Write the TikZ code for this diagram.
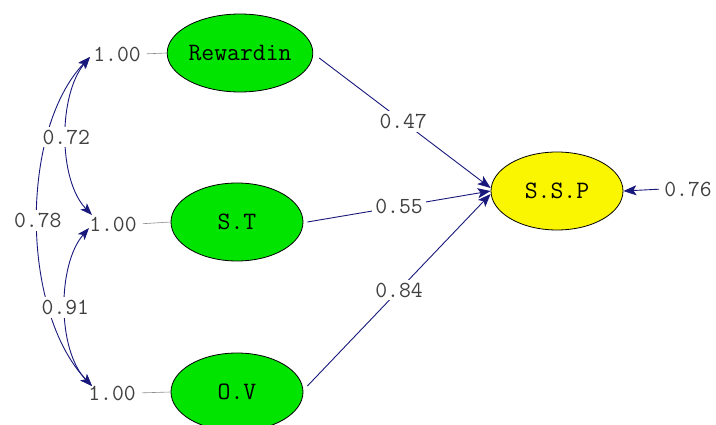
\documentclass[tikz,border=0pt]{standalone}
\usepackage{fontspec}
\usetikzlibrary{shapes.geometric,arrows.meta}
\definecolor{lvgreen}{RGB}{0,228,0}
\definecolor{lvyellow}{RGB}{250,245,0}
\definecolor{lvblue}{RGB}{25,25,125}
\begin{document}
\begin{tikzpicture}[x=1pt,y=-1pt,
  latent/.style={ellipse,draw=black,line width=0.8pt,fill=lvgreen,minimum width=132pt,minimum height=78pt,inner sep=0pt,font=\ttfamily\fontsize{25}{28}\selectfont},
  num/.style={font=\ttfamily\fontsize{23}{26}\selectfont,text=black!75,inner sep=1pt},
  lbl/.style={num,fill=white,inner sep=3pt},
  pathar/.style={draw=lvblue,line width=0.9pt,-{Stealth[length=13pt,width=10pt,inset=3pt]}},
  covar/.style={draw=lvblue,line width=0.9pt,{Stealth[length=12pt,width=9pt,inset=3pt]}-{Stealth[length=12pt,width=9pt,inset=3pt]}},
  tie/.style={draw=black!45,line width=0.6pt}]
\useasboundingbox[fill=white] (0,0) rectangle (716,425);
% latent variables
\node[latent] (rew) at (240,53) {Rewardin};
\node[latent] (st) at (237,222) {S.T};
\node[latent] (ov) at (237,392) {O.V};
\node[latent,fill=lvyellow] (ssp) at (557,191) {S.S.P};
% variance labels
\node[num] (one1) at (117,54) {1.00};
\node[num] (one2) at (113,224) {1.00};
\node[num] (one3) at (112,393) {1.00};
\node[num] (err) at (688,189) {0.76};
% ties
\draw[tie,shorten <=5pt] (one1.east) -- (rew.west);
\draw[tie,shorten <=5pt] (one2.east) -- (st.west);
\draw[tie,shorten <=5pt] (one3.east) -- (ov.west);
% paths
\draw[pathar] ([shift={(6,5)}]rew.east) -- ([shift={(0,-3)}]ssp.west) node[lbl,pos=.49] {0.47};
\draw[pathar] ([shift={(4,0)}]st.east) -- ([shift={(0,0)}]ssp.west) node[lbl,pos=.5] {0.55};
\draw[pathar] ([shift={(4,-6)}]ov.east) -- ([shift={(0,3)}]ssp.west) node[lbl,pos=.5] {0.84};
\draw[pathar,shorten <=4pt] (err.west) -- (ssp.east);
% covariances
\coordinate (a1) at (90,57);
\coordinate (a2) at (92,215);
\coordinate (a3) at (89,228);
\coordinate (a4) at (92,386);
\draw[covar] (a1) .. controls (20,130) and (20,310) .. (a4) node[lbl,pos=.5] {0.78};
\draw[covar] (a1) .. controls (58,95) and (58,180) .. (a2) node[lbl,pos=.5] {0.72};
\draw[covar] (a3) .. controls (57,265) and (57,350) .. (a4) node[lbl,pos=.5] {0.91};
\end{tikzpicture}
\end{document}
